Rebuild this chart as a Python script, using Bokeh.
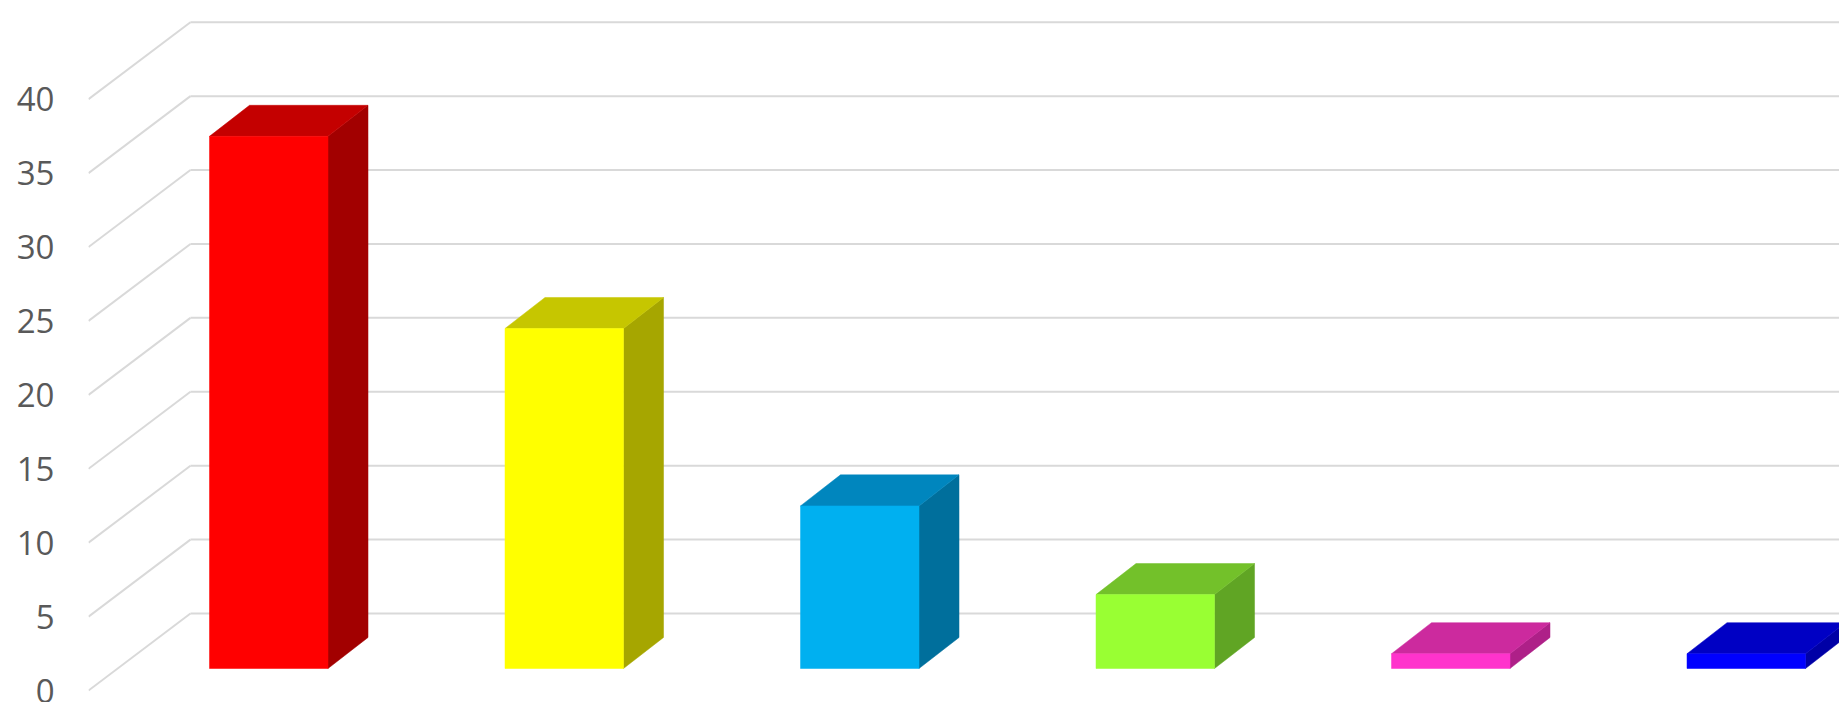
from bokeh.plotting import figure
from bokeh.models import Range1d, FixedTicker
from bokeh.embed import file_html
from bokeh.resources import INLINE

# ---- data ----
categories = ["A", "B", "C", "D", "E", "F"]
values = [36, 23, 11, 5, 1, 1]
front_colors = ["#FF0000", "#FFFF00", "#00B0F0", "#99FF33", "#FF33CC", "#0000FF"]
top_colors = ["#C40000", "#C6C600", "#0086BE", "#73C12A", "#CC2A9E", "#0000C4"]
side_colors = ["#A20000", "#A6A600", "#006F9C", "#60A524", "#AE2088", "#0000A6"]
ticks = [0, 5, 10, 15, 20, 25, 30, 35, 40]

# ---- 3D geometry (data units: 1 x-unit = one category, y = value) ----
WALL_DX, WALL_DY = 0.345, 5.21     # depth of floor / side wall
BAR_X0, BAR_W = 0.4095, 0.401      # front face left offset within category, width
BAR_Y0 = 1.49                      # bar base lifted (bar sits in middle depth)
BAR_DDX, BAR_DDY = 0.1354, 2.10    # bar depth offset
X_MAX = 5.9255
Y_MIN, Y_MAX = -0.81, 46.68

p = figure(width=1839, height=702, output_backend="svg", toolbar_location=None,
           x_range=Range1d(0, X_MAX), y_range=Range1d(Y_MIN, Y_MAX),
           min_border_left=88, min_border_right=0, min_border_top=0, min_border_bottom=0)
p.outline_line_color = None
p.xgrid.visible = False
p.ygrid.visible = False
p.xaxis.visible = False
p.background_fill_color = "white"
p.border_fill_color = "white"

grid_col = "#D9D9D9"
# side-wall diagonals
p.segment(x0=[0] * len(ticks), y0=ticks,
          x1=[WALL_DX] * len(ticks), y1=[t + WALL_DY for t in ticks],
          line_color=grid_col, line_width=2)
# back-wall horizontals
p.segment(x0=[WALL_DX] * len(ticks), y0=[t + WALL_DY for t in ticks],
          x1=[X_MAX + 1] * len(ticks), y1=[t + WALL_DY for t in ticks],
          line_color=grid_col, line_width=2)

# bars
fx, fy, tx, ty, sx, sy = [], [], [], [], [], []
for i, v in enumerate(values):
    x0 = i + BAR_X0
    x1 = x0 + BAR_W
    y0 = BAR_Y0
    y1 = BAR_Y0 + v
    fx.append([x0, x1, x1, x0]); fy.append([y0, y0, y1, y1])
    tx.append([x0, x1, x1 + BAR_DDX, x0 + BAR_DDX]); ty.append([y1, y1, y1 + BAR_DDY, y1 + BAR_DDY])
    sx.append([x1, x1 + BAR_DDX, x1 + BAR_DDX, x1]); sy.append([y0, y0 + BAR_DDY, y1 + BAR_DDY, y1])

p.patches(xs=sx, ys=sy, fill_color=side_colors, line_color=side_colors, line_width=0.5)
p.patches(xs=tx, ys=ty, fill_color=top_colors, line_color=top_colors, line_width=0.5)
p.patches(xs=fx, ys=fy, fill_color=front_colors, line_color=front_colors, line_width=0.5)

# value axis (labels at the front-left edge)
ya = p.yaxis[0]
ya.ticker = FixedTicker(ticks=ticks)
ya.axis_line_color = None
ya.major_tick_line_color = None
ya.minor_tick_line_color = None
ya.major_tick_out = 0
ya.major_tick_in = 0
ya.major_label_standoff = 34
ya.major_label_text_font = "Open Sans"
ya.major_label_text_font_size = "33px"
ya.major_label_text_color = "#595959"

open("out.html", "w").write(file_html(p, INLINE))
